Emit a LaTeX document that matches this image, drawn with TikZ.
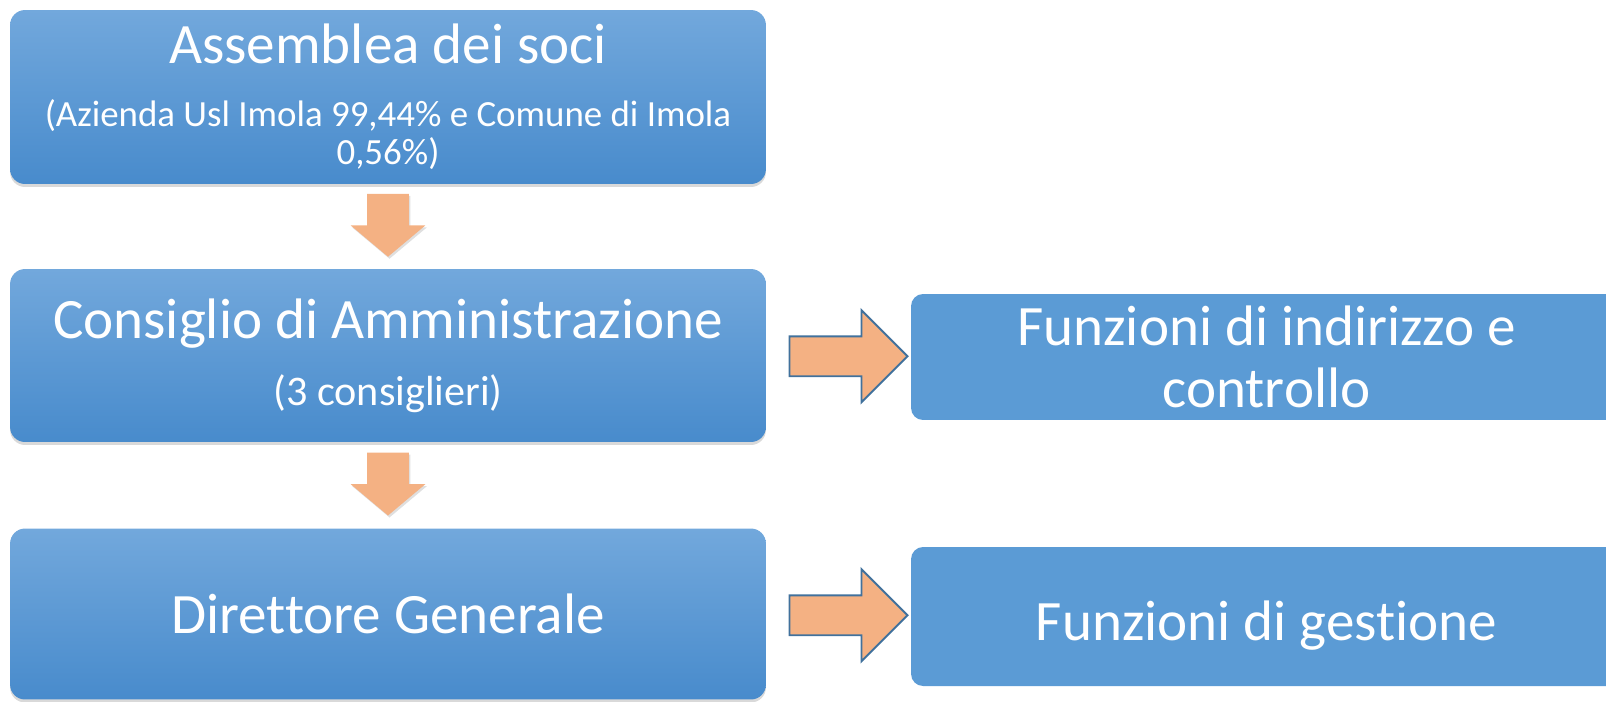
\documentclass[tikz,border=0pt]{standalone}
\usepackage{fontspec}
\setmainfont{Carlito}[Ligatures=NoCommon]
\usetikzlibrary{shapes.arrows,shadows,calc}

\definecolor{boxtop}{RGB}{114,168,220}
\definecolor{boxbottom}{RGB}{72,139,204}
\definecolor{boxflat}{RGB}{91,155,213}
\definecolor{arrowfill}{RGB}{244,177,131}
\definecolor{arrowline}{RGB}{65,113,156}
\newcommand{\subtext}{\fontsize{21}{21.6}\selectfont}
\newcommand{\subtextb}{\fontsize{24}{26}\selectfont}

\begin{document}
\begin{tikzpicture}[x=0.02cm,y=-0.02cm,
  main node/.style={rectangle,rounded corners=0.3cm,top color=boxtop,bottom color=boxbottom,
    text=white,align=center,inner sep=0pt,minimum width=15.12cm,
    font=\fontsize{32.5}{36}\selectfont,
    drop shadow={shadow xshift=0cm,shadow yshift=-0.06cm,opacity=0.3}},
  side node/.style={rectangle,rounded corners=0.24cm,fill=boxflat,text=white,align=center,
    inner sep=0pt,minimum width=14.22cm,font=\fontsize{32.5}{36}\selectfont},
  down arrow/.style={yshift=0.2cm,single arrow,rotate=-90,fill=arrowfill,inner xsep=0pt,inner ysep=0.41cm,
    minimum height=1.26cm,minimum width=1.48cm,single arrow head extend=0.33cm,
    single arrow tip angle=100,
    drop shadow={shadow xshift=0.03cm,shadow yshift=-0.04cm,opacity=0.25}},
  right arrow/.style={single arrow,fill=arrowfill,draw=arrowline,line width=1.1pt,
    inner xsep=0pt,inner ysep=0.38cm,
    minimum height=2.36cm,minimum width=1.8cm,single arrow head extend=0.52cm,
    single arrow tip angle=90}]
  \useasboundingbox (0,0) rectangle (1606,701);
  \clip (0,0) rectangle (1606,701);

  \node[main node,minimum height=3.48cm] (1) at (388,97) {Assemblea dei soci\\{\subtext (Azienda Usl Imola 99,44\% e Comune di Imola}\\[-14.4pt]{\subtext 0,56\%)}};
  \node[main node,minimum height=3.46cm] (2) at (388,355.5) {Consiglio di Amministrazione\\[2pt]{\subtextb (3 consiglieri)}};
  \node[main node,minimum height=3.42cm] (3) at (388,614) {Direttore Generale};
  \node[side node,minimum height=2.52cm] (4) at (1266.5,357) {Funzioni di indirizzo e\\[-0.7pt]controllo};
  \node[side node,minimum height=2.78cm,text height=0.94cm,text depth=0pt] (5) at (1266.5,616.5) {Funzioni di gestione};

  \node[down arrow] (a) at ($(1.south)!0.5!(2.north)$) {};
  \node[down arrow] (b) at ($(2.south)!0.5!(3.north)$) {};
  \node[right arrow] (c) at ($(2.east)!0.5!(4.west)$) {};
  \node[right arrow] (d) at ($(3.east)!0.5!(5.west)$) {};
\end{tikzpicture}
\end{document}
